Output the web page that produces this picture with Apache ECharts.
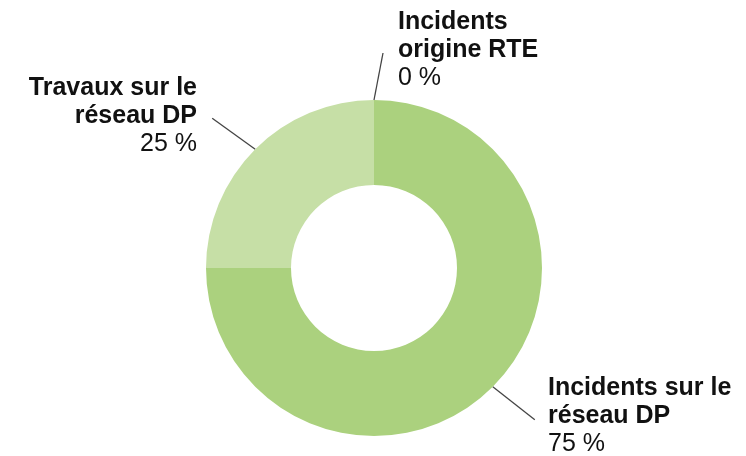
<!DOCTYPE html>
<html>
<head>
<meta charset="utf-8">
<script src="https://cdn.jsdelivr.net/npm/echarts@6/dist/echarts.min.js"></script>
<style>
html,body{margin:0;padding:0;background:#fff;}
#chart{width:746px;height:456px;}
</style>
</head>
<body>
<div id="chart"></div>
<script>
const categories = ['Incidents sur le\nréseau DP', 'Travaux sur le\nréseau DP', 'Incidents\norigine RTE'];
const values = [75, 25, 0];
const colors = ['#abd17e', '#c6dfa6', '#9ccc65'];

const chart = echarts.init(document.getElementById('chart'), null, {renderer: 'canvas'});

// label placement per slice: leader end offset (from the slice edge point) and label anchor
const labelPlacement = [
  {dx: 42, dy: 33, lx: 548, ly: 374, align: 'left'},
  {dx: -43, dy: -31, lx: 197, ly: 74, align: 'right'},
  {dx: 9, dy: -47, lx: 398, ly: 8, align: 'left'}
];

chart.setOption({
  backgroundColor: '#ffffff',
  animation: false,
  series: [{
    type: 'pie',
    center: [374, 268],
    radius: [83, 168],
    startAngle: 90,
    clockwise: true,
    avoidLabelOverlap: false,
    minShowLabelAngle: 0,
    data: categories.map((c, i) => ({name: c, value: values[i], itemStyle: {color: colors[i]}})),
    label: {
      show: true,
      position: 'outside',
      formatter: p => p.name.split('\n').map(s => '{b|' + s + '}').join('\n') + '\n{v|' + p.value + ' %}',
      rich: {
        b: {fontFamily: 'Liberation Sans, Arial, sans-serif', fontSize: 25, fontWeight: 'bold', color: '#111', lineHeight: 28},
        v: {fontFamily: 'Liberation Sans, Arial, sans-serif', fontSize: 25, fontWeight: 'normal', color: '#111', lineHeight: 28}
      }
    },
    labelLine: {
      show: true,
      length: 20,
      length2: 0,
      lineStyle: {color: '#444', width: 1.3}
    },
    labelLayout: function (params) {
      const pl = labelPlacement[params.dataIndex];
      const pts = params.labelLinePoints;
      const start = pts ? pts[0] : [0, 0];
      return {
        x: pl.lx,
        y: pl.ly,
        align: pl.align,
        verticalAlign: 'top',
        labelLinePoints: [start, [start[0] + pl.dx, start[1] + pl.dy], [start[0] + pl.dx, start[1] + pl.dy]]
      };
    },
    emphasis: {disabled: true}
  }]
});
</script>
</body>
</html>
